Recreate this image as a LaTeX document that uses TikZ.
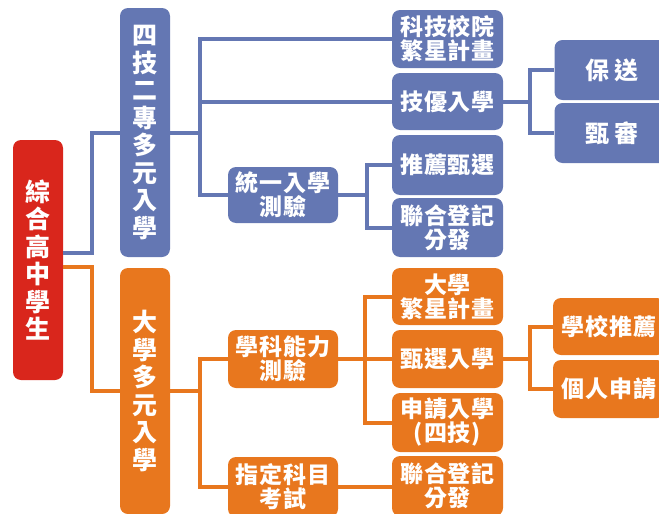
\documentclass[tikz,border=0pt]{standalone}
\usepackage{fontspec}
\newfontfamily\cjk{Noto Sans CJK TC}
\definecolor{bfill}{RGB}{100,119,179}
\definecolor{ofill}{RGB}{232,119,30}
\definecolor{rfill}{RGB}{217,38,28}
\begin{document}
\begin{tikzpicture}[x=1pt,y=-1pt,
  box/.style={rounded corners=8pt, inner sep=0pt, text=white, align=center,
    font={\cjk\bfseries\fontsize{23}{24}\selectfont\addfontfeatures{LetterSpace=4}}},
  wbox/.style={box, font={\cjk\bfseries\fontsize{24}{26}\selectfont\addfontfeatures{LetterSpace=18}}},
  wwbox/.style={box, font={\cjk\bfseries\fontsize{23}{26}\selectfont\addfontfeatures{LetterSpace=3}}},
  vbox/.style={box, font={\cjk\bfseries\fontsize{25}{27.5}\selectfont}},
  bb/.style={fill=bfill},
  ob/.style={fill=ofill},
  rb/.style={fill=rfill},
  bl/.style={draw=bfill, line width=4pt},
  ol/.style={draw=ofill, line width=4pt},
  sz/.style n args={2}{minimum width=#1pt, minimum height=#2pt}
]
\useasboundingbox (0,0) rectangle (659,514);
\clip (0,0) rectangle (659,514);
% main column
\node[vbox,rb,sz={50}{240}] (root) at (38,260) {綜\\合\\高\\中\\學\\生};
\node[vbox,bb,sz={50}{249}] (four) at (145,132.5) {四\\技\\二\\專\\多\\元\\入\\學};
\node[vbox,ob,sz={50}{246}] (univ) at (145,391) {大\\學\\多\\元\\入\\學};
% blue branch
\node[box,bb,sz={110}{56}] (tongyi) at (283,195) {統一入學\\測驗};
\node[box,bb,sz={111}{58}] (keji) at (447.5,39) {科技校院\\繁星計畫};
\node[box,bb,sz={111}{57}] (jiyou) at (447.5,101.5) {技優入學};
\node[box,bb,sz={111}{60}] (tuijian) at (447.5,165) {推薦甄選};
\node[box,bb,sz={111}{59}] (lianheA) at (447.5,227.5) {聯合登記\\分發};
\node[wbox,bb,sz={115}{60}] (baosong) at (612,70) {保送};
\node[wbox,bb,sz={115}{60}] (zhenshen) at (612,133) {甄審};
% orange branch
\node[box,ob,sz={110}{58}] (xueke) at (283,359) {學科能力\\測驗};
\node[box,ob,sz={110}{60}] (zhiding) at (283,487) {指定科目\\考試};
\node[box,ob,sz={111}{57}] (daxue) at (447.5,296.5) {大學\\繁星計畫};
\node[box,ob,sz={111}{58}] (zhenxuan) at (447.5,359) {甄選入學};
\node[box,ob,sz={111}{59}] (shenqing) at (447.5,422.5) {申請入學\\(四技)};
\node[box,ob,sz={111}{60}] (lianheB) at (447.5,486) {聯合登記\\分發};
\node[wwbox,ob,sz={112}{57}] (xuexiao) at (609,326.5) {學校推薦};
\node[wwbox,ob,sz={112}{58}] (geren) at (609,389) {個人申請};
% connectors
\draw[bl] ([yshift=7pt]root.east) -- ++(29pt,0) coordinate (ra) |- (four.west);
\draw[ol] ([yshift=-7pt]root.east) -- ++(29pt,0) coordinate (rb) |- (univ.west);
\draw[bl] (four.east) -- ++(30pt,0) coordinate (fa);
\draw[bl] (fa) |- (keji.west);
\draw[bl] (fa) |- (jiyou.west);
\draw[bl] (fa) |- (tongyi.west);
\draw[bl] (tongyi.east) -- ++(29pt,0) coordinate (ta);
\draw[bl] (ta) |- (tuijian.west);
\draw[bl] (ta) |- (lianheA.west);
\draw[bl] (jiyou.east) -- ++(27pt,0) coordinate (ja);
\draw[bl] (ja) |- (baosong.west);
\draw[bl] (ja) |- (zhenshen.west);
\draw[ol] (univ.east) -- ++(30pt,0) coordinate (ua);
\draw[ol] (ua) |- (xueke.west);
\draw[ol] (ua) |- (zhiding.west);
\draw[ol] (xueke.east) -- ++(27pt,0) coordinate (xa);
\draw[ol] (xa) |- (daxue.west);
\draw[ol] (xa) |- (zhenxuan.west);
\draw[ol] (xa) |- (shenqing.west);
\draw[ol] (zhiding.east) -- (zhiding.east -| lianheB.west);
\draw[ol] (zhenxuan.east) -- ++(27pt,0) coordinate (za);
\draw[ol] (za) |- (xuexiao.west);
\draw[ol] (za) |- (geren.west);
\end{tikzpicture}
\end{document}
